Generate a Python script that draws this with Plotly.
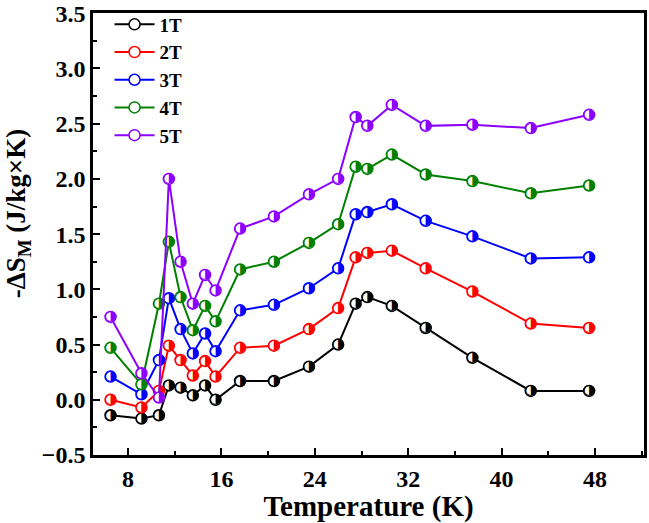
import plotly.graph_objects as go

temperature = [6.5, 9.15, 10.65, 11.5, 12.5, 13.55, 14.6, 15.5, 17.6, 20.5,
               23.5, 26.0, 27.5, 28.5, 30.6, 33.5, 37.5, 42.5, 47.5]

ds_1T = [-0.14, -0.17, -0.14, 0.13, 0.11, 0.04, 0.13, 0.00, 0.17, 0.17,
         0.30, 0.50, 0.87, 0.93, 0.85, 0.65, 0.38, 0.08, 0.08]
ds_2T = [0.00, -0.07, 0.08, 0.49, 0.36, 0.22, 0.35, 0.21, 0.47, 0.49,
         0.64, 0.83, 1.29, 1.33, 1.35, 1.19, 0.98, 0.69, 0.65]
ds_3T = [0.21, 0.05, 0.36, 0.92, 0.64, 0.42, 0.60, 0.44, 0.81, 0.86,
         1.01, 1.19, 1.68, 1.70, 1.77, 1.62, 1.48, 1.28, 1.29]
ds_4T = [0.47, 0.14, 0.87, 1.43, 0.93, 0.63, 0.85, 0.71, 1.18, 1.25,
         1.42, 1.59, 2.11, 2.09, 2.22, 2.04, 1.98, 1.87, 1.94]
ds_5T = [0.75, 0.24, 0.02, 2.00, 1.25, 0.87, 1.13, 0.99, 1.55, 1.66,
         1.86, 2.00, 2.56, 2.48, 2.67, 2.48, 2.49, 2.46, 2.58]

series_names = ["1T", "2T", "3T", "4T", "5T"]
series_values = [ds_1T, ds_2T, ds_3T, ds_4T, ds_5T]
series_colors = ["#000000", "#ff0000", "#0000ff", "#008000", "#8b00ff"]

FONT = "Liberation Serif"
Y_TITLE = "-\u0394S<sub>M</sub> (J/kg\u00d7K)"

fig = go.Figure()
for name, vals, col in zip(series_names, series_values, series_colors):
    fig.add_trace(go.Scatter(
        x=temperature, y=vals, name=name, mode="lines+markers",
        line=dict(color=col, width=2),
        marker=dict(symbol="circle", size=11, color="white",
                    line=dict(color=col, width=1.5)),
    ))
    fig.add_trace(go.Scatter(
        x=temperature, y=vals, mode="text", showlegend=False,
        text=["\u25D1"] * len(temperature), textposition="middle center",
        textfont=dict(family="DejaVu Sans", size=14, color=col),
        hoverinfo="skip",
    ))

axis_common = dict(
    showline=True, linecolor="black", linewidth=2.5, mirror=True,
    ticks="inside", ticklen=7, tickwidth=2, tickcolor="black",
    showgrid=False, zeroline=False, ticklabeloverflow="allow", automargin=False,
    tickfont=dict(family=FONT, size=24, color="black", weight="bold"),
)

fig.update_xaxes(
    range=[5, 52.2], tick0=8, dtick=8,
    minor=dict(ticks="inside", ticklen=4, tickwidth=2, tickcolor="black", dtick=4, tick0=0),
    title=dict(text="Temperature (K)", font=dict(family=FONT, size=29, color="black", weight="bold"), standoff=2),
    **axis_common,
)
fig.update_yaxes(
    range=[-0.5, 3.502], tick0=0, dtick=0.5, tickformat=".1f",
    minor=dict(ticks="inside", ticklen=4, tickwidth=2, tickcolor="black", dtick=0.25, tick0=0),
    **axis_common,
)

fig.add_annotation(
    text=Y_TITLE, textangle=-90, showarrow=False,
    xref="paper", yref="paper", x=-0.136, y=0.545, xanchor="center", yanchor="middle",
    font=dict(family=FONT, size=27, color="black", weight="bold"),
)

fig.update_layout(
    width=649, height=523,
    margin=dict(l=93, r=5, t=10, b=68),
    plot_bgcolor="white", paper_bgcolor="white",
    legend=dict(x=0.03, y=1.017, xanchor="left", yanchor="top",
                bgcolor="rgba(0,0,0,0)", font=dict(family=FONT, size=19, color="black", weight="bold"),
                tracegroupgap=0, itemwidth=40),
    showlegend=True,
)

fig.write_html("out.html")
